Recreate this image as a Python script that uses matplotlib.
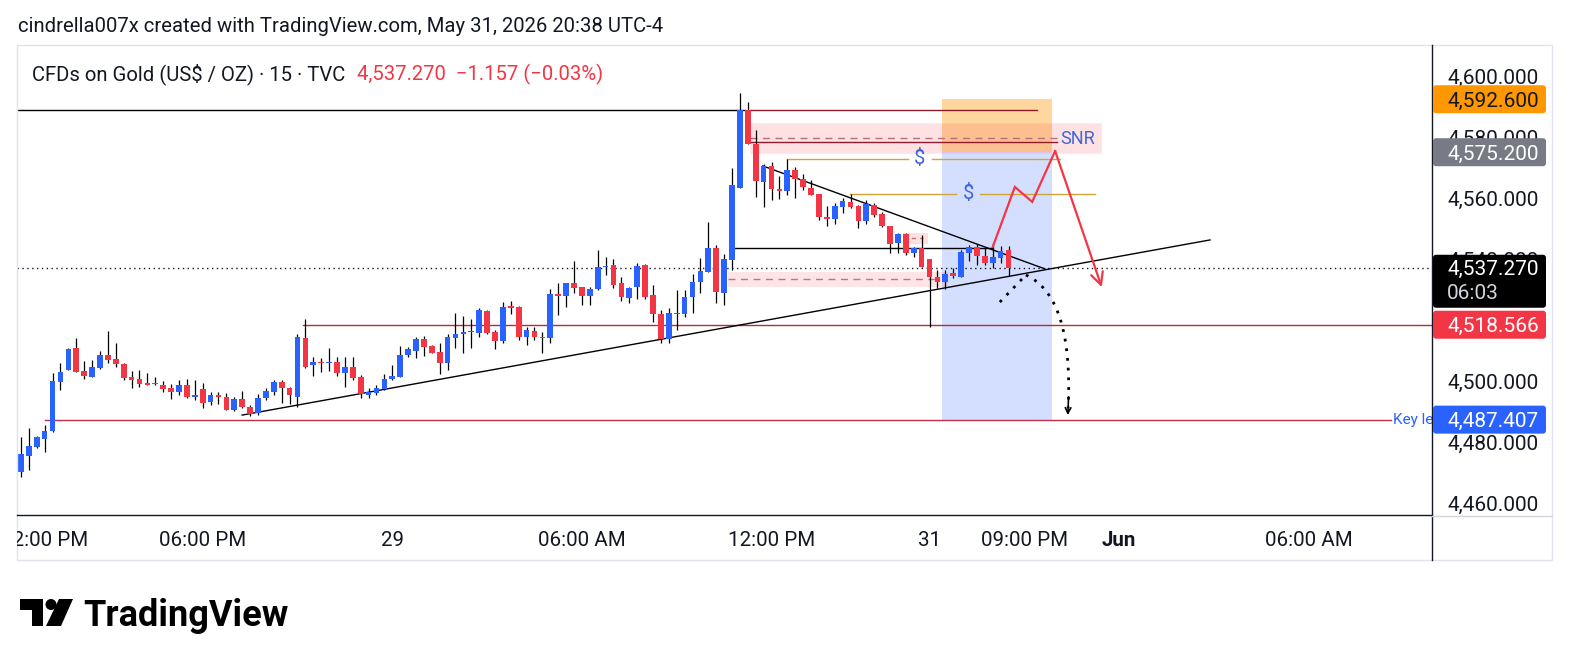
import matplotlib
matplotlib.use("Agg")
import matplotlib.pyplot as plt
from matplotlib.patches import Rectangle, FancyBboxPatch, Polygon, Circle
from matplotlib.lines import Line2D
import numpy as np

plt.rcParams['font.family'] = ['Roboto', 'DejaVu Sans']

# 15 min candles, May 28 12:00 PM -> May 31 08:30 PM (bar index = position)
opens = [4470.2, 4475.4, 4478.4, 4481.0, 4483.6, 4499.7, 4503.7, 4510.9, 4503.4, 4501.4,
         4504.3, 4508.6, 4507.3, 4505.7, 4501.4, 4500.7, 4499.4, 4499.4, 4498.8, 4497.8,
         4496.5, 4498.8, 4494.8, 4497.4, 4493.2, 4495.5, 4494.8, 4490.5, 4494.2, 4491.5,
         4489.6, 4494.5, 4496.5, 4499.7, 4497.8, 4494.8, 4514.2, 4505.3, 4506.3, 4506.0,
         4506.3, 4502.7, 4504.7, 4501.4, 4495.5, 4496.1, 4497.4, 4500.7, 4501.4, 4508.6,
         4509.9, 4513.9, 4511.6, 4509.6, 4506.0, 4514.2, 4515.5, 4516.2, 4515.8, 4523.0,
         4516.2, 4513.2, 4524.7, 4524.4, 4514.5, 4516.5, 4514.5, 4514.2, 4528.6, 4528.0,
         4532.3, 4530.9, 4528.0, 4530.3, 4537.5, 4538.2, 4532.3, 4527.3, 4530.9, 4538.2,
         4528.3, 4522.1, 4513.9, 4522.1, 4522.1, 4527.6, 4532.6, 4535.9, 4543.8, 4528.9,
         4539.8, 4563.5, 4589.1, 4577.9, 4565.4, 4570.7, 4563.1, 4562.5, 4569.4, 4566.4,
         4563.5, 4561.5, 4553.9, 4553.3, 4557.2, 4558.9, 4557.5, 4552.6, 4557.9, 4554.9,
         4551.0, 4545.4, 4548.4, 4542.1, 4543.8, 4540.1, 4534.2, 4532.6, 4535.5, 4534.2,
         4542.1, 4544.1, 4541.1, 4538.8, 4540.5, 4543.1]
highs = [4481.7, 4484.6, 4482.0, 4485.6, 4502.7, 4506.0, 4510.9, 4514.2, 4506.6, 4507.0,
         4509.9, 4516.5, 4512.5, 4506.0, 4503.4, 4503.7, 4502.7, 4501.4, 4500.1, 4499.1,
         4500.4, 4500.7, 4500.4, 4499.4, 4496.5, 4496.5, 4496.1, 4494.8, 4496.8, 4492.2,
         4495.8, 4497.8, 4500.4, 4500.4, 4498.1, 4515.5, 4520.4, 4507.9, 4507.6, 4510.9,
         4507.9, 4507.9, 4507.9, 4502.0, 4497.8, 4498.8, 4502.4, 4505.3, 4511.6, 4511.2,
         4514.5, 4514.9, 4511.9, 4512.5, 4515.5, 4522.4, 4521.4, 4520.4, 4524.0, 4523.4,
         4516.8, 4526.0, 4526.3, 4524.7, 4517.8, 4517.8, 4516.2, 4530.3, 4532.3, 4532.3,
         4539.5, 4530.9, 4530.9, 4543.1, 4540.8, 4540.1, 4534.2, 4530.9, 4538.8, 4538.5,
         4531.6, 4523.4, 4524.0, 4529.9, 4529.9, 4535.2, 4540.5, 4552.3, 4544.8, 4541.8,
         4570.0, 4594.6, 4591.7, 4582.5, 4571.3, 4572.0, 4567.4, 4573.0, 4570.4, 4568.0,
         4566.1, 4561.5, 4557.5, 4558.5, 4560.2, 4561.5, 4557.9, 4559.5, 4558.5, 4555.6,
         4551.0, 4548.7, 4548.7, 4544.1, 4548.0, 4540.1, 4536.5, 4536.5, 4537.2, 4543.1,
         4544.7, 4545.1, 4543.8, 4545.4, 4544.4, 4544.4]
lows = [4468.6, 4470.9, 4478.1, 4476.8, 4483.3, 4497.1, 4503.7, 4503.0, 4500.7, 4501.4,
        4504.0, 4506.0, 4504.7, 4500.4, 4497.8, 4498.1, 4498.8, 4498.8, 4496.5, 4494.2,
        4495.5, 4494.5, 4493.8, 4491.2, 4492.2, 4492.5, 4490.5, 4490.2, 4491.2, 4488.6,
        4488.9, 4493.8, 4495.5, 4492.8, 4492.5, 4491.5, 4504.3, 4501.7, 4503.0, 4503.4,
        4501.7, 4498.1, 4500.4, 4494.5, 4494.5, 4495.5, 4497.1, 4500.4, 4501.4, 4507.9,
        4507.6, 4508.3, 4509.3, 4502.4, 4503.7, 4510.9, 4509.3, 4510.9, 4514.5, 4515.5,
        4510.6, 4512.5, 4522.1, 4513.5, 4511.9, 4513.5, 4509.3, 4512.5, 4521.8, 4524.4,
        4528.9, 4525.0, 4525.0, 4529.9, 4534.9, 4530.6, 4526.3, 4525.7, 4527.0, 4527.0,
        4519.4, 4512.5, 4512.5, 4516.8, 4521.1, 4522.4, 4528.9, 4535.9, 4525.7, 4525.0,
        4536.5, 4563.5, 4577.9, 4560.5, 4557.2, 4559.5, 4559.8, 4561.1, 4560.2, 4562.8,
        4561.2, 4552.9, 4551.0, 4551.6, 4555.2, 4556.9, 4550.3, 4551.6, 4553.9, 4550.6,
        4542.1, 4542.1, 4541.4, 4540.8, 4537.5, 4517.8, 4530.6, 4530.3, 4533.9, 4534.2,
        4539.5, 4538.2, 4538.2, 4537.2, 4538.8, 4534.6]
closes = [4476.1, 4478.7, 4481.7, 4483.6, 4500.1, 4503.0, 4510.6, 4503.0, 4501.7, 4504.7,
          4508.6, 4507.0, 4505.7, 4501.0, 4500.4, 4499.1, 4498.8, 4499.1, 4497.4, 4496.5,
          4498.8, 4494.8, 4495.5, 4492.8, 4495.5, 4494.8, 4490.5, 4494.2, 4491.5, 4489.2,
          4494.5, 4496.8, 4499.7, 4497.8, 4495.5, 4514.5, 4504.7, 4506.3, 4506.0, 4506.3,
          4502.7, 4504.7, 4501.0, 4495.8, 4496.5, 4497.8, 4500.7, 4501.7, 4508.6, 4510.6,
          4513.9, 4511.2, 4509.3, 4506.0, 4514.5, 4515.5, 4516.2, 4516.5, 4523.4, 4515.8,
          4513.2, 4524.4, 4524.0, 4514.5, 4516.8, 4514.5, 4514.2, 4528.6, 4528.0, 4532.3,
          4530.6, 4528.0, 4530.3, 4537.5, 4537.8, 4531.6, 4527.6, 4530.6, 4537.8, 4527.6,
          4522.1, 4513.9, 4522.4, 4522.4, 4527.6, 4532.6, 4536.2, 4543.8, 4529.3, 4540.1,
          4564.4, 4589.1, 4577.9, 4565.8, 4570.7, 4563.1, 4562.5, 4569.4, 4566.4, 4563.8,
          4561.2, 4553.9, 4553.3, 4557.5, 4559.2, 4557.2, 4552.6, 4558.2, 4554.6, 4551.0,
          4545.1, 4548.4, 4542.1, 4543.8, 4537.5, 4534.2, 4532.6, 4535.2, 4534.5, 4542.4,
          4544.1, 4541.1, 4538.8, 4540.8, 4542.8, 4537.27]

# time axis labels (bar index, text)
time_ticks = [3, 23, 47, 71, 95, 115, 127, 139, 163]
time_labels = ["12:00 PM", "06:00 PM", "29", "06:00 AM", "12:00 PM", "31", "09:00 PM", "Jun", "06:00 AM"]
price_ticks = [4460, 4480, 4500, 4520, 4540, 4560, 4580, 4600]

# drawing levels
last_price = 4537.270
change, change_pct = -1.157, -0.03
stop_price, entry_price, target_price = 4592.600, 4575.200, 4487.407
red_level = 4518.566
top_high_line = 4589.1
snr_zone = (4574.9, 4584.8)
snr_mid, snr_line = 4579.9, 4578.5
low_zone = (4530.9, 4535.9)
low_zone_mid = 4533.6
small_zone = (4545.1, 4548.7)
box_line = 4543.8
gold_levels = [4573.0, 4561.5]
gold_start = [97.0, 104.9]
gold_end = [131.5, 136.0]
gold_dollar = [113.8, 119.9]
asc_x, asc_y = [28.0, 150.5], [4488.9, 4546.4]
desc_x, desc_y = [93.9, 129.6], [4570.7, 4536.9]
proj_x = [123.0, 125.8, 128.0, 130.9, 136.8]
proj_y = [4544.1, 4563.8, 4558.9, 4575.6, 4530.9]
dot_x = [123.9, 127.2, 133.4, 132.5]
dot_y = [4526.0, 4534.9, 4527.5, 4488.9]
pos_x = (116.6, 130.5)

BLUE = '#2962FF'
RED = '#F23645'
DARKRED = '#8E1B2B'
TXT = '#131722'
DRAWBLUE = '#3F66D8'
GOLD = '#D1A43A'

W, H = 1574, 666
def fx(px):
    return px / W
def fy(py):
    return 1 - py / H

fig = plt.figure(figsize=(W / 100, H / 100), dpi=100)
fig.patch.set_facecolor('white')
ax = fig.add_axes([fx(17), fy(515), fx(1432) - fx(17), fy(45) - fy(515)])
ax.set_xlim(-0.5, 178.6)
ax.set_ylim(4456.1, 4610.4)
ax.axis('off')

# candles
idx = np.arange(len(opens))
o, h, l, c = (np.array(v) for v in (opens, highs, lows, closes))
cols = np.where(c >= o, BLUE, RED)
ax.vlines(idx, l, h, color='black', lw=0.9, zorder=3)
ax.bar(idx, np.maximum(np.abs(c - o), 0.4), bottom=np.minimum(o, c), width=0.72,
       color=cols, linewidth=0, zorder=4)

# short position tool
ax.add_patch(Rectangle((pos_x[0], entry_price), pos_x[1] - pos_x[0], stop_price - entry_price,
                       facecolor='#FF9800', alpha=0.38, linewidth=0, zorder=1))
ax.add_patch(Rectangle((pos_x[0], target_price), pos_x[1] - pos_x[0], entry_price - target_price,
                       facecolor=BLUE, alpha=0.2, linewidth=0, zorder=1))

# zones
ax.add_patch(Rectangle((92.3, snr_zone[0]), 136.7 - 92.3, snr_zone[1] - snr_zone[0],
                       facecolor=RED, alpha=0.15, edgecolor='#F7B6BE', lw=0.6, zorder=1.5))
ax.plot([92.3, 131.1], [snr_mid, snr_mid], color='#B5707A', ls=(0, (5, 4)), lw=1, zorder=2)
ax.plot([92.3, 131.1], [snr_line, snr_line], color=DARKRED, lw=1, zorder=2)
ax.text(131.6, snr_mid - 0.5, "SNR", color=DRAWBLUE, fontsize=13, va='center', zorder=5)

ax.add_patch(Rectangle((89.5, low_zone[0]), 117.3 - 89.5, low_zone[1] - low_zone[0],
                       facecolor=RED, alpha=0.13, linewidth=0, zorder=1.5))
ax.plot([89.5, 116.3], [low_zone_mid, low_zone_mid], color='#C8707C', ls=(0, (5, 4)), lw=1, zorder=2)
ax.add_patch(Rectangle((111.6, small_zone[0]), 3.2, small_zone[1] - small_zone[0],
                       facecolor=RED, alpha=0.15, linewidth=0, zorder=1.5))
ax.plot([111.6, 114.2], [4547.0] * 2, color='#C8707C', ls=(0, (3, 3)), lw=1, zorder=2)

# horizontal lines
ax.plot([-0.5, 91.6], [top_high_line] * 2, color='black', lw=1, zorder=2)
ax.plot([92.3, 128.6], [top_high_line] * 2, color=DARKRED, lw=1, zorder=2)
ax.plot([90.4, 122.9], [box_line] * 2, color='black', lw=1, zorder=2)
ax.plot([35.7, 178.6], [red_level] * 2, color='#B8293D', lw=1, zorder=2)
ax.plot([3.0, 173.4], [target_price] * 2, color='#C0304A', lw=1, zorder=2)
ax.text(173.7, target_price, "Key level", color=BLUE, fontsize=11, va='center',
        clip_on=True, zorder=5)
ax.axhline(last_price, color=TXT, ls=(0, (1, 2.5)), lw=1, zorder=2)

for lv, x0, x1, xd in zip(gold_levels, gold_start, gold_end, gold_dollar):
    ax.plot([x0, xd - 1.5], [lv, lv], color=GOLD, lw=1, zorder=2)
    ax.plot([xd + 1.5, x1], [lv, lv], color=GOLD, lw=1, zorder=2)
    ax.text(xd, lv, "$", color=DRAWBLUE, fontsize=14.5, ha='center', va='center', zorder=5)

# trend lines
ax.plot(asc_x, asc_y, color='black', lw=1, zorder=2.5)
ax.plot(desc_x, desc_y, color='black', lw=1, zorder=2.5)

# projected path
ax.plot(proj_x[:-1], proj_y[:-1], color=RED, lw=1.6, zorder=5, solid_joinstyle='miter')
ax.annotate('', xy=(proj_x[-1], proj_y[-1]), xytext=(proj_x[-2], proj_y[-2]),
            arrowprops=dict(arrowstyle='->', color=RED, lw=1.6, mutation_scale=22,
                            shrinkA=0, shrinkB=0), zorder=5)

# dotted curved arrow
ax.plot(dot_x[:2], dot_y[:2], color='black', ls=(0, (1, 2.5)), lw=2, zorder=5)
t = np.linspace(0, 0.97, 40)
bx = (1 - t) ** 2 * dot_x[1] + 2 * (1 - t) * t * dot_x[2] + t ** 2 * dot_x[3]
by = (1 - t) ** 2 * dot_y[1] + 2 * (1 - t) * t * dot_y[2] + t ** 2 * dot_y[3]
ax.plot(bx, by, color='black', ls=(0, (1, 2.5)), lw=2, zorder=5)
ax.annotate('', xy=(dot_x[3], dot_y[3]), xytext=(bx[-3], by[-3]),
            arrowprops=dict(arrowstyle='->', color='black', lw=1.2, mutation_scale=10,
                            shrinkA=0, shrinkB=0), zorder=5)

# panel frame and separators
fig.add_artist(Rectangle((fx(17), fy(560)), fx(1552) - fx(17), fy(45) - fy(560),
                         transform=fig.transFigure, fill=False, edgecolor='#E0E3EB', lw=1))
fig.add_artist(Line2D([fx(1432), fx(1432)], [fy(45), fy(560)], color=TXT, lw=1))
fig.add_artist(Line2D([fx(17), fx(1432)], [fy(515), fy(515)], color=TXT, lw=1))
fig.add_artist(Line2D([fx(1432), fx(1552)], [fy(516), fy(516)], color='#D1D4DC', lw=1))

# price axis labels (text nudged 2px down to sit like TradingView's)
def py_of(price):
    return ax.transData.transform((0, price))[1]

for v in price_ticks:
    fig.text(fx(1447), (py_of(v) - 2) / H, f"{v:,.3f}", fontsize=15, color=TXT,
             va='center', ha='left', zorder=2)

def price_box(price, face, tcol, up=14, down=14):
    yd = py_of(price)
    box = FancyBboxPatch((1433, yd - down), 113, up + down, boxstyle="round,pad=0,rounding_size=3",
                         transform=None, facecolor=face, edgecolor='none', zorder=5)
    fig.add_artist(box)
    fig.text(fx(1447), (yd - 2) / H, f"{price:,.3f}", fontsize=15, color=tcol,
             va='center', ha='left', zorder=6)
    return yd

price_box(stop_price, '#FF9800', TXT)
price_box(entry_price, '#787B86', 'white')
yd = price_box(last_price, 'black', 'white', up=13, down=40)
fig.text(fx(1447), (yd - 26) / H, "06:03", fontsize=15, color='#D1D4DC', va='center', ha='left', zorder=6)
price_box(red_level, RED, 'white')
price_box(target_price, BLUE, 'white')

# time axis labels
clip = Rectangle((fx(17), 0), fx(1432) - fx(17), 1, transform=fig.transFigure)
for i, lab in zip(time_ticks, time_labels):
    xd = ax.transData.transform((i, 0))[0]
    tt = fig.text(xd / W, fy(541), lab, fontsize=14.8, color=TXT, ha='center', va='center',
                  fontweight='bold' if lab == "Jun" else 'normal')
    tt.set_clip_path(clip)

# header texts
fig.text(fx(18), fy(27), "cindrella007x created with TradingView.com, May 31, 2026 20:38 UTC-4",
         fontsize=14.6, color=TXT, va='center')
fig.text(fx(32), fy(74), "CFDs on Gold (US$ / OZ) \u00b7 15 \u00b7 TVC", fontsize=14.6, color=TXT, va='center')
fig.text(fx(357), fy(74), f"{last_price:,.3f}  \u2212{abs(change):.3f} (\u2212{abs(change_pct):.2f}%)",
         fontsize=14.6, color=RED, va='center')

# TradingView logo
def P(pts):
    return [(fx(x), fy(y)) for x, y in pts]

fig.add_artist(Polygon(P([(20, 599), (43, 599), (43, 626), (32, 626), (32, 610), (20, 610)]),
                       closed=True, transform=fig.transFigure, facecolor='black', edgecolor='none'))
fig.add_artist(Polygon(P([(59, 599), (73, 599), (61, 626), (46, 626)]),
                       closed=True, transform=fig.transFigure, facecolor='black', edgecolor='none'))
fig.add_artist(Circle((51, H - 604.5), 5.5, transform=None, facecolor='black', edgecolor='none'))
fig.text(fx(83), fy(616), "TradingView", fontsize=26, fontweight='bold', color='black', va='center')

fig.savefig("out.png", dpi=100)
